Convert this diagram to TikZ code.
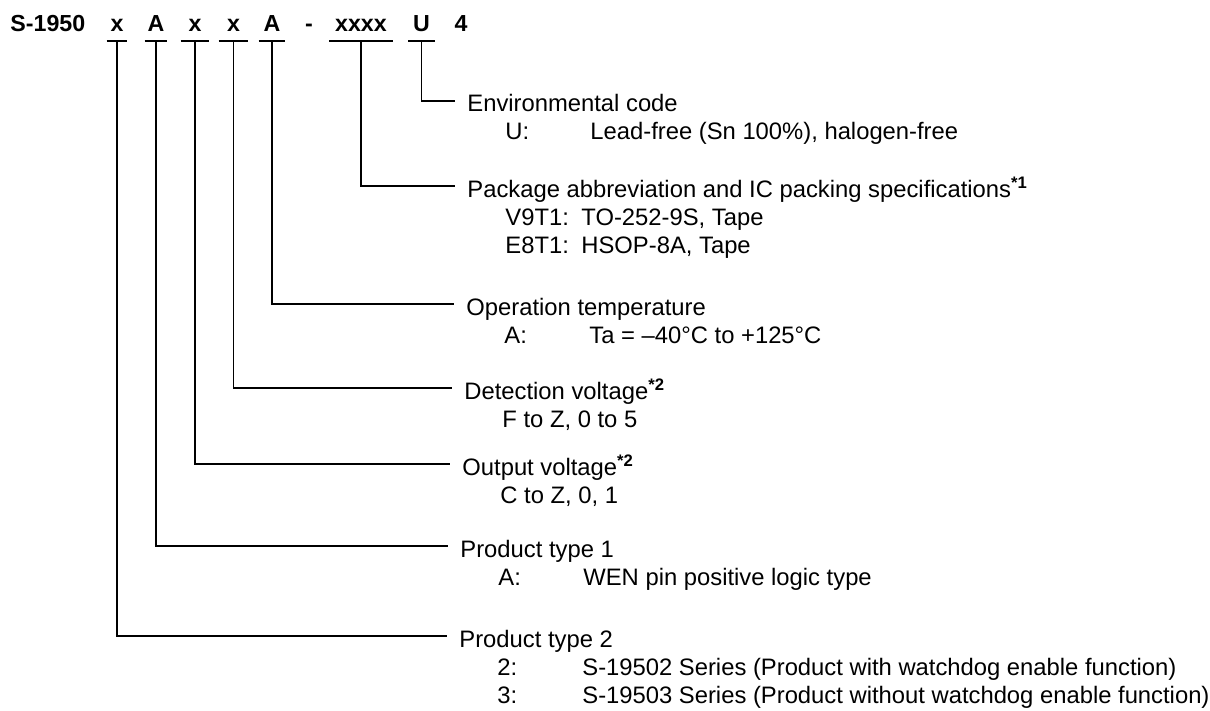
\documentclass[tikz,border=0pt]{standalone}
\usepackage{fontspec}
\setmainfont{Liberation Sans}
\usetikzlibrary{positioning}

\begin{document}
\begin{tikzpicture}[x=0.5pt,y=-0.5pt,
        font=\fontsize{11.9}{14}\selectfont,
        code/.style={font=\fontsize{11.6}{14}\selectfont\bfseries,anchor=base,inner xsep=0pt,inner ysep=4.5pt,text height=8.4pt,text depth=0pt},
        head/.style={anchor=west,inner xsep=6pt,inner ysep=0pt,text height=11.3pt,text depth=0pt},
        item/.style={anchor=base west,inner sep=0pt},
        lead/.style={line width=0.9pt}]
        \useasboundingbox (0,0) rectangle (1210,711);
        % model number
        \node[code,anchor=base west] (pre) at (10,32) {S-1950};
        \node[code,minimum width=10pt] (c1) at (117,32) {x};
        \node[code,minimum width=11pt] (c2) at (156,32) {A};
        \node[code,minimum width=14pt] (c3) at (195,32) {x};
        \node[code,minimum width=14.5pt] (c4) at (233.5,32) {x};
        \node[code,minimum width=13pt] (c5) at (272,32) {A};
        \node[code] (dash) at (309,32) {-};
        \node[code,minimum width=31.5pt] (c6) at (361,32) {xxxx};
        \node[code,minimum width=13pt] (c7) at (421.5,32) {U};
        \node[code] (c8) at (461,32) {4};
        \foreach \n in {c1,c2,c3,c4,c5,c6,c7}
            \draw[lead] (\n.south west) -- (\n.south east);
        % descriptions
        \node[head] (envt) at (455,100.7) {Environmental code};
        \node[item] (envk) at ([xshift=25pt,yshift=-14pt]envt.base west) {U:};
        \node[item] (envv) at ([xshift=42.5pt]envk.base west) {Lead-free (Sn 100\%), halogen-free};
        \node[head] (pkgt) at (455,186) {Package abbreviation and IC packing specifications\textsuperscript{\bfseries*1}};
        \node[item] (pkgk1) at ([xshift=25pt,yshift=-14pt]pkgt.base west) {V9T1:};
        \node[item] (pkgv1) at ([xshift=38pt]pkgk1.base west) {TO-252-9S, Tape};
        \node[item] (pkgk2) at ([yshift=-14pt]pkgk1.base west) {E8T1:};
        \node[item] (pkgv2) at ([xshift=38pt]pkgk2.base west) {HSOP-8A, Tape};
        \node[head] (opt) at (454,304) {Operation temperature};
        \node[item] (opk) at ([xshift=25pt,yshift=-14pt]opt.base west) {A:};
        \node[item] (opv) at ([xshift=42.5pt]opk.base west) {Ta = –40°C to +125°C};
        \node[head] (dett) at (452,388) {Detection voltage\textsuperscript{\bfseries*2}};
        \node[item] (detv) at ([xshift=25pt,yshift=-14pt]dett.base west) {F to Z, 0 to 5};
        \node[head] (outt) at (450,464) {Output voltage\textsuperscript{\bfseries*2}};
        \node[item] (outv) at ([xshift=25pt,yshift=-14pt]outt.base west) {C to Z, 0, 1};
        \node[head] (pt1t) at (448,546) {Product type 1};
        \node[item] (pt1k) at ([xshift=25pt,yshift=-14pt]pt1t.base west) {A:};
        \node[item] (pt1v) at ([xshift=42.5pt]pt1k.base west) {WEN pin positive logic type};
        \node[head] (pt2t) at (447,636) {Product type 2};
        \node[item] (pt2k1) at ([xshift=25pt,yshift=-14pt]pt2t.base west) {2:};
        \node[item] (pt2v1) at ([xshift=42.5pt]pt2k1.base west) {S-19502 Series (Product with watchdog enable function)};
        \node[item] (pt2k2) at ([yshift=-14pt]pt2k1.base west) {3:};
        \node[item] (pt2v2) at ([xshift=42.5pt]pt2k2.base west) {S-19503 Series (Product without watchdog enable function)};
        % leaders
        \draw[lead] (c7.south) |- (envt.west);
        \draw[lead] (c6.south) |- (pkgt.west);
        \draw[lead] (c5.south) |- (opt.west);
        \draw[lead] (c4.south) |- (dett.west);
        \draw[lead] (c3.south) |- (outt.west);
        \draw[lead] (c2.south) |- (pt1t.west);
        \draw[lead] (c1.south) |- (pt2t.west);
    \end{tikzpicture}
\end{document}
